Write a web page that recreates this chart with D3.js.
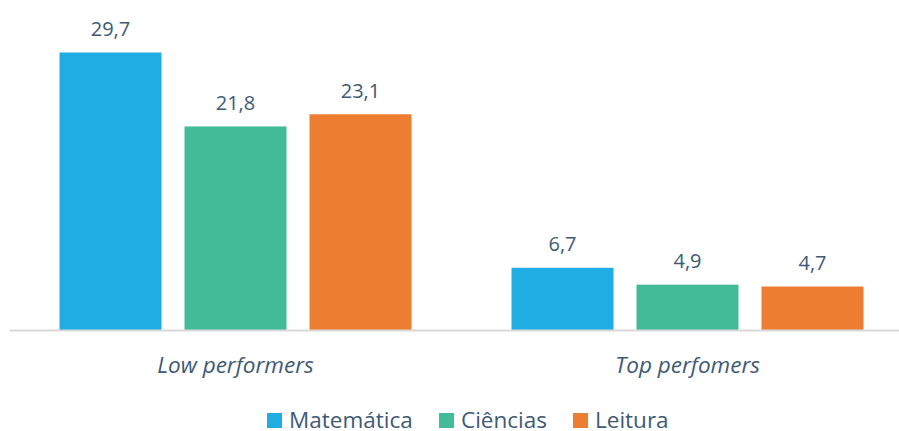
<!DOCTYPE html>
<html>
<head>
<meta charset="utf-8">
<script src="https://cdn.jsdelivr.net/npm/d3@7"></script>
<style>
  html, body { margin: 0; padding: 0; background: #ffffff; }
  svg { display: block; font-family: "Open Sans", "Noto Sans", sans-serif; }
</style>
</head>
<body>
<svg id="chart" width="899" height="431"></svg>
<script>
// Percent of students per group and subject
const groups = ["Low performers", "Top perfomers"];
const subjects = ["Matemática", "Ciências", "Leitura"];
const matematica = [29.7, 6.7];
const ciencias = [21.8, 4.9];
const leitura = [23.1, 4.7];
const colors = ["#1FADE4", "#44BB98", "#ED7D31"];

const seriesValues = [matematica, ciencias, leitura];
const textColor = "#3E5A74";
const fmt = v => v.toFixed(1).replace(".", ",");

const svg = d3.select("#chart");
const W = 899;

const x0 = d3.scaleBand().domain(groups).range([9.5, 913.5]).padding(0);
const x1 = d3.scaleBand().domain(subjects).range([0, x0.bandwidth()])
  .paddingInner(0.184).paddingOuter(0.4);
const y = d3.scaleLinear().domain([0, 30]).range([330.5, 49.7]);

// Bars grouped by category, with value labels above
const g = svg.append("g");
groups.forEach((grp, gi) => {
  const cg = g.append("g").attr("transform", `translate(${x0(grp)},0)`);
  subjects.forEach((s, si) => {
    const v = seriesValues[si][gi];
    cg.append("rect")
      .attr("x", x1(s))
      .attr("y", y(v))
      .attr("width", x1.bandwidth())
      .attr("height", y(0) - y(v))
      .attr("fill", colors[si]);
    cg.append("text")
      .attr("x", x1(s) + x1.bandwidth() / 2)
      .attr("y", y(v) - 16.5)
      .attr("text-anchor", "middle")
      .attr("font-size", 20)
      .attr("fill", textColor)
      .text(fmt(v));
  });
});

// Category axis
const axis = svg.append("g").attr("transform", `translate(0,${y(0)})`)
  .call(d3.axisBottom(x0).tickSize(0).tickPadding(0));
axis.select(".domain").attr("stroke", "#D9D9D9").attr("stroke-width", 2)
  .attr("d", `M${x0.range()[0]},0H${W}`);
axis.selectAll(".tick text")
  .attr("dy", 0)
  .attr("y", 42.5)
  .attr("font-size", 22.5)
  .attr("font-style", "italic")
  .attr("font-family", "'Open Sans', 'Noto Sans', sans-serif")
  .attr("fill", textColor);

// Legend
const legendX = [267, 439, 573];
const legend = svg.append("g");
subjects.forEach((s, i) => {
  const lg = legend.append("g").attr("transform", `translate(${legendX[i]},0)`);
  lg.append("rect").attr("x", 0).attr("y", 413).attr("width", 15).attr("height", 15)
    .attr("fill", colors[i]);
  lg.append("text").attr("x", 22).attr("y", 428)
    .attr("font-size", 22.5).attr("fill", textColor).text(s);
});
</script>
</body>
</html>
